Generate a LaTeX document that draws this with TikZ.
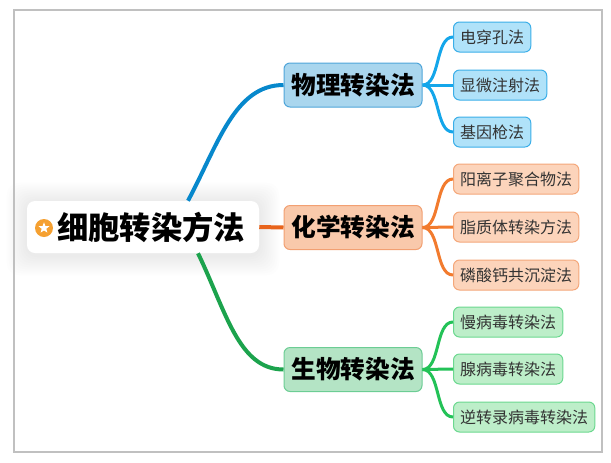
\documentclass[tikz,border=0pt]{standalone}
\usepackage{fontspec}
\newfontfamily\cjk{Noto Sans CJK SC}
\usepackage{tikz}
\usetikzlibrary{shapes.geometric,backgrounds}
\definecolor{framegray}{RGB}{192,192,192}
\definecolor{staror}{RGB}{245,160,49}
\definecolor{physline}{RGB}{7,136,204}
\definecolor{physfill}{RGB}{169,214,238}
\definecolor{physedge}{RGB}{79,165,217}
\definecolor{physsub}{RGB}{176,226,249}
\definecolor{physsubedge}{RGB}{58,174,232}
\definecolor{phystwig}{RGB}{20,166,234}
\definecolor{chemline}{RGB}{232,100,28}
\definecolor{chemfill}{RGB}{249,201,171}
\definecolor{chemedge}{RGB}{242,160,114}
\definecolor{chemsub}{RGB}{252,212,187}
\definecolor{chemsubedge}{RGB}{244,167,122}
\definecolor{chemtwig}{RGB}{242,123,46}
\definecolor{bioline}{RGB}{28,163,77}
\definecolor{biofill}{RGB}{180,228,197}
\definecolor{bioedge}{RGB}{108,205,148}
\definecolor{biosub}{RGB}{189,238,201}
\definecolor{biosubedge}{RGB}{107,216,143}
\definecolor{biotwig}{RGB}{35,194,87}
\tikzset{
  rootbox/.style={fill=white, rounded corners=6pt, minimum width=174pt, minimum height=39pt},
  roottext/.style={inner sep=0pt, font=\cjk\bfseries\fontsize{23.5}{23.5}\selectfont},
  topic/.style={draw, rounded corners=4.5pt, line width=0.75pt, minimum width=103.5pt,
    minimum height=33pt, font=\cjk\bfseries\fontsize{18.5}{18.5}\selectfont},
  subtopic/.style={draw, rounded corners=4.5pt, line width=0.75pt, minimum height=22.5pt,
    inner xsep=5pt, anchor=west, text=black!80, font=\cjk\fontsize{12}{12}\selectfont},
  branch/.style={line width=3pt},
  twig/.style={line width=2.25pt},
}

\begin{document}
\begin{tikzpicture}[x=0.75pt,y=-0.75pt]
\useasboundingbox (0,0) rectangle (611,462);
\draw[framegray, line width=1.5pt] (14,10) rectangle (602,452);
% central topic
\node[rootbox] (root) at (143,227) {};
\begin{scope}[on background layer]
  \foreach \s in {1.5,3,...,15}
    \fill[black, opacity=0.006, rounded corners=9pt]
      ([shift={(-\s pt,-\s pt-1.5pt)}]root.south west) rectangle ([shift={(\s pt,\s pt-1.5pt)}]root.north east);
\end{scope}
\node[roottext] (rootlabel) at (151,227) {细胞转染方法};
\node[circle, fill=staror, minimum size=13.5pt, inner sep=0pt] (badge) at (44,228) {};
\node[star, star points=5, star point ratio=2.3, fill=white, minimum size=8.5pt, inner sep=0pt] (badgestar) at (badge) {};
% main topics
\node[topic, fill=physfill, draw=physedge] (phys) at (353,85) {物理转染法};
\node[topic, fill=chemfill, draw=chemedge] (chem) at (353,227.5) {化学转染法};
\node[topic, fill=biofill, draw=bioedge] (bio) at (353,369.5) {生物转染法};
\draw[branch, physline] ([xshift=33.75pt]root.north) .. controls +(30,-56) and +(-49,0) .. (phys.west);
\draw[branch, chemline] (root.east) -- (chem.west);
\draw[branch, bioline] ([xshift=41.25pt]root.south) .. controls +(28,58) and +(-45,0) .. (bio.west);
% subtopics
\foreach \name/\y/\txt in {elec/37/电穿孔法, micro/85/显微注射法, gun/132/基因枪法}{
  \node[subtopic, fill=physsub, draw=physsubedge] (\name) at (453,\y) {\txt};
  \draw[twig, phystwig] (phys.east) .. controls +(18,0) and +(-18,0) .. (\name.west);
}
\foreach \name/\y/\txt in {poly/179/阳离子聚合物法, lipo/227/脂质体转染方法, calc/275/磷酸钙共沉淀法}{
  \node[subtopic, fill=chemsub, draw=chemsubedge] (\name) at (453,\y) {\txt};
  \draw[twig, chemtwig] (chem.east) .. controls +(18,0) and +(-18,0) .. (\name.west);
}
\foreach \name/\y/\txt in {lenti/322/慢病毒转染法, adeno/369/腺病毒转染法, retro/417/逆转录病毒转染法}{
  \node[subtopic, fill=biosub, draw=biosubedge] (\name) at (453,\y) {\txt};
  \draw[twig, biotwig] (bio.east) .. controls +(18,0) and +(-18,0) .. (\name.west);
}
\end{tikzpicture}
\end{document}
